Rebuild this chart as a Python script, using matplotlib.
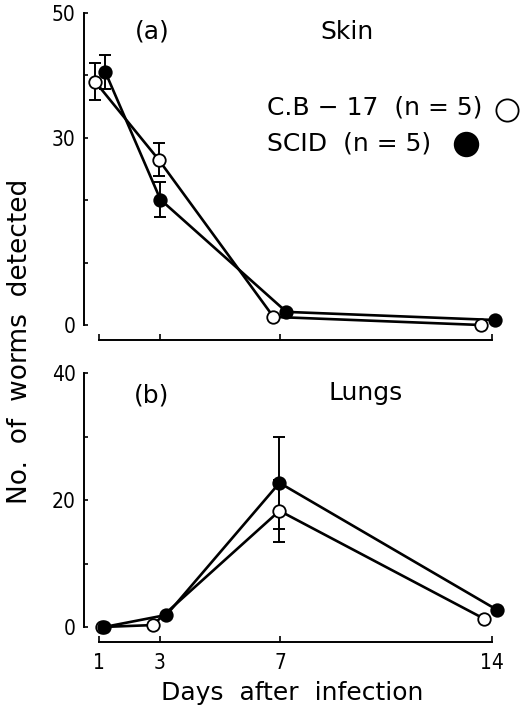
import matplotlib.pyplot as plt
from matplotlib.ticker import FixedLocator

plt.rcParams['font.family'] = ['DejaVu Sans']

# data
days = [1, 3, 7, 14]

skin_cb = [39.0, 26.5, 1.3, 0.0]
skin_cb_err = [3.0, 2.7, 0, 0]
skin_scid = [40.6, 20.1, 2.1, 0.8]
skin_scid_err = [2.7, 2.8, 0, 0]

lung_cb = [0.0, 0.3, 18.3, 1.3]
lung_cb_err = [0, 0, 4.9, 0]
lung_scid = [0.0, 1.9, 22.7, 2.7]
lung_scid_err = [0, 0, 7.2, 0]

# small horizontal dodge of the symbols (days)
skin_cb_dx = [-0.13, -0.03, -0.23, -0.36]
skin_scid_dx = [0.2, 0.03, 0.2, 0.1]
lung_cb_dx = [0.1, -0.23, -0.03, -0.26]
lung_scid_dx = [0.17, 0.23, -0.03, 0.17]

W, H = 521, 708


def fx(px):
    return px / W


def fy(py):
    return 1 - py / H


tick_font = {'family': ['DejaVu Sans'], 'stretch': 'condensed', 'size': 15}

fig = plt.figure(figsize=(5.21, 7.08), dpi=100)
ax1 = fig.add_axes([fx(84), fy(340), (507 - 84) / W, (340 - 13) / H])
ax2 = fig.add_axes([fx(84), fy(642), (507 - 84) / W, (642 - 373) / H])


def draw(ax, y1, e1, dx1, y2, e2, dx2, ymax, major, minor, show_x):
    x1 = [d + o for d, o in zip(days, dx1)]
    x2 = [d + o for d, o in zip(days, dx2)]
    for x, y, e in [(x1, y1, e1), (x2, y2, e2)]:
        xs = [a for a, b in zip(x, e) if b > 0]
        ys = [a for a, b in zip(y, e) if b > 0]
        es = [b for b in e if b > 0]
        ax.errorbar(xs, ys, yerr=es, fmt='none', ecolor='black', elinewidth=1.4,
                    capsize=4, capthick=1.4, zorder=1)
    ax.plot(x1, y1, color='black', lw=1.9, zorder=2)
    ax.plot(x2, y2, color='black', lw=1.9, zorder=2)
    ax.plot(x1, y1, 'o', ms=9, mfc='white', mec='black', mew=1.3, zorder=3, clip_on=False)
    ax.plot(x2, y2, 'o', ms=9, mfc='black', mec='black', mew=1.3, zorder=4, clip_on=False)

    ax.set_xlim(0.5, 14.5)
    px_h = ax.get_position().height * H
    ax.set_ylim(-15 * ymax / (px_h - 15), ymax)
    for s in ['top', 'right']:
        ax.spines[s].set_visible(False)
    ax.spines['left'].set_bounds(0, ymax)
    ax.spines['bottom'].set_bounds(1, 14)
    ax.spines['left'].set_linewidth(1.4)
    ax.spines['bottom'].set_linewidth(1.4)

    ax.yaxis.set_major_locator(FixedLocator(major))
    ax.yaxis.set_minor_locator(FixedLocator(minor))
    ax.set_yticklabels([str(v) for v in major], fontdict=tick_font)
    ax.tick_params(axis='y', which='both', direction='in', length=3, width=1.2, pad=6)
    ax.set_xticks(days)
    ax.tick_params(axis='x', direction='in', length=4, width=1.2, pad=8)
    if show_x:
        ax.set_xticklabels([str(d) for d in days], fontdict=tick_font)
    else:
        ax.set_xticklabels([])
    ax.patch.set_visible(False)


draw(ax1, skin_cb, skin_cb_err, skin_cb_dx, skin_scid, skin_scid_err, skin_scid_dx,
     50, [0, 30, 50], [10, 20, 40], False)
draw(ax2, lung_cb, lung_cb_err, lung_cb_dx, lung_scid, lung_scid_err, lung_scid_dx,
     40, [0, 20, 40], [10, 30], True)

txt = dict(fontsize=18, ha='center', va='center')
fig.text(fx(152), fy(32), '(a)', **txt)
fig.text(fx(347), fy(32), 'Skin', **txt)
fig.text(fx(152), fy(396), '(b)', **txt)
fig.text(fx(366), fy(393), 'Lungs', **txt)

fig.text(fx(267), fy(108), 'C.B − 17  (n = 5)', fontsize=18, ha='left', va='center')
fig.text(fx(267), fy(143), 'SCID  (n = 5)', fontsize=18, ha='left', va='center')
fig.add_artist(plt.Line2D([fx(507)], [fy(110)], marker='o', ms=16, mfc='white',
                          mec='black', mew=1.3, transform=fig.transFigure))
fig.add_artist(plt.Line2D([fx(466)], [fy(144)], marker='o', ms=17, mfc='black',
                          mec='black', mew=1.3, transform=fig.transFigure))

fig.text(fx(292), fy(693), 'Days  after  infection', **txt)
fig.text(fx(20), fy(341), 'No.  of  worms  detected', rotation=90,
         fontsize=19, ha='center', va='center')

plt.savefig('out.png', dpi=100)
